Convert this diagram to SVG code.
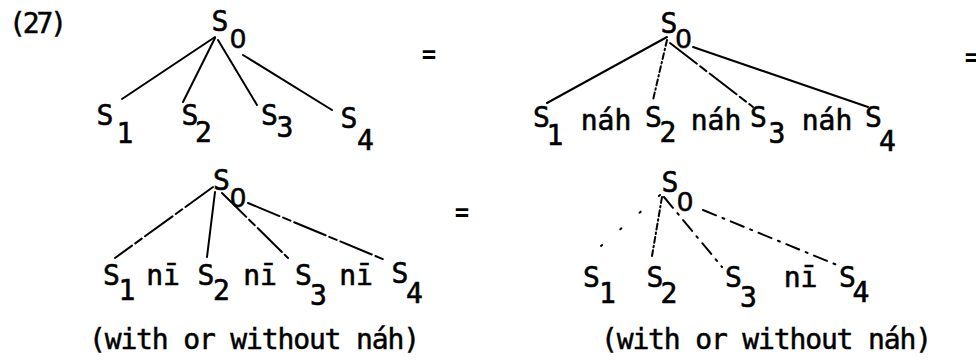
<svg xmlns="http://www.w3.org/2000/svg" width="976" height="360" viewBox="0 0 976 360">
<style>
.t{font-family:"DejaVu Sans Mono","Liberation Mono",monospace;font-size:28px;fill:#000;stroke:#000;stroke-width:0.6;text-anchor:middle}
.z{font-family:"Liberation Sans","DejaVu Sans",sans-serif}
.w{font-family:"DejaVu Sans Mono","Liberation Mono",monospace;font-size:28px;fill:#000;stroke:#000;stroke-width:0.5}
.eq{font-family:"DejaVu Sans Mono","Liberation Mono",monospace;font-size:24px;font-weight:bold;fill:#000;text-anchor:middle}
.e{stroke:#000;stroke-width:2;fill:none;stroke-linecap:round}
.dd{stroke-dasharray:6 3 1.5 3}
.br{stroke-dasharray:34 4 8 4}
.ds{stroke-dasharray:14 7 2 7}
.sp{stroke-dasharray:1.5 24}
</style>
<rect width="976" height="360" fill="#fff"/>
<text class="w" x="9" y="33" textLength="58">(27)</text>
<g id="eqs">
<text class="eq" x="429" y="63">=</text>
<text class="eq" x="972" y="66">=</text>
<text class="eq" x="462" y="221">=</text>
</g>
<g id="connectors">
<line class="e" x1="215" y1="37" x2="122" y2="99"/>
<line class="e" x1="215" y1="38" x2="183" y2="102"/>
<line class="e" x1="218" y1="40" x2="257" y2="105"/>
<line class="e" x1="243" y1="55" x2="332" y2="110"/>
<line class="e" x1="667" y1="37" x2="547" y2="103"/>
<line class="e dd" x1="667" y1="40" x2="653" y2="100"/>
<line class="e br" x1="670" y1="43" x2="753" y2="107"/>
<line class="e" x1="693" y1="47" x2="868" y2="107"/>
<line class="e br" x1="213" y1="187" x2="115" y2="258"/>
<line class="e" x1="215" y1="192" x2="207" y2="257"/>
<line class="e br" x1="222" y1="193" x2="288" y2="258"/>
<line class="e br" x1="248" y1="203" x2="385" y2="260"/>
<line class="e sp" x1="660" y1="195" x2="587" y2="258"/>
<line class="e dd" x1="662" y1="197" x2="652" y2="256"/>
<line class="e ds" x1="664" y1="197" x2="722" y2="267"/>
<line class="e ds" x1="703" y1="210" x2="837" y2="265"/>
</g>
<g id="a-s0"><text class="t" x="220" y="31">S</text><text class="t z" x="238" y="48">0</text></g>
<g id="a-s1"><text class="t" x="105" y="125">S</text><text class="t" x="125" y="143">1</text></g>
<g id="a-s2"><text class="t" x="190" y="125">S</text><text class="t" x="203.5" y="142">2</text></g>
<g id="a-s3"><text class="t" x="269.5" y="125">S</text><text class="t" x="285" y="137">3</text></g>
<g id="a-s4"><text class="t" x="349" y="128">S</text><text class="t" x="365.5" y="150">4</text></g>
<g id="b-s0"><text class="t" x="669" y="33">S</text><text class="t z" x="683.5" y="48">0</text></g>
<g id="b-s1"><text class="t" x="541.5" y="127">S</text><text class="t" x="555" y="145">1</text></g>
<g id="b-nah1"><text class="t" x="606" y="130">náh</text></g>
<g id="b-s2"><text class="t" x="653.5" y="127">S</text><text class="t" x="668" y="142">2</text></g>
<g id="b-nah2"><text class="t" x="716" y="130">náh</text></g>
<g id="b-s3"><text class="t" x="758.5" y="127">S</text><text class="t" x="777" y="143">3</text></g>
<g id="b-nah3"><text class="t" x="827" y="130">náh</text></g>
<g id="b-s4"><text class="t" x="873.5" y="127">S</text><text class="t" x="887.5" y="151">4</text></g>
<g id="c-s0"><text class="t" x="221.5" y="190">S</text><text class="t z" x="238" y="207">0</text></g>
<g id="c-s1"><text class="t" x="111.5" y="285">S</text><text class="t" x="127" y="300">1</text></g>
<g id="c-ni1"><text class="t" x="163" y="285">nī</text></g>
<g id="c-s2"><text class="t" x="206" y="285">S</text><text class="t" x="221.5" y="300">2</text></g>
<g id="c-ni2"><text class="t" x="260" y="285">nī</text></g>
<g id="c-s3"><text class="t" x="303.5" y="285">S</text><text class="t" x="318.5" y="305">3</text></g>
<g id="c-ni3"><text class="t" x="356" y="285">nī</text></g>
<g id="c-s4"><text class="t" x="400" y="283">S</text><text class="t" x="414.5" y="303">4</text></g>
<g id="d-s0"><text class="t" x="670" y="192">S</text><text class="t z" x="685" y="211">0</text></g>
<g id="d-s1"><text class="t" x="591.5" y="287">S</text><text class="t" x="607.5" y="303">1</text></g>
<g id="d-s2"><text class="t" x="655" y="287">S</text><text class="t" x="669" y="303">2</text></g>
<g id="d-s3"><text class="t" x="733.5" y="287">S</text><text class="t" x="748.5" y="307">3</text></g>
<g id="d-ni"><text class="t" x="800.5" y="287">nī</text></g>
<g id="d-s4"><text class="t" x="847.5" y="287">S</text><text class="t" x="861" y="302">4</text></g>
<text class="w" x="89" y="349" textLength="331">(with or without náh)</text>
<text class="w" x="601" y="349" textLength="331">(with or without náh)</text>
</svg>
